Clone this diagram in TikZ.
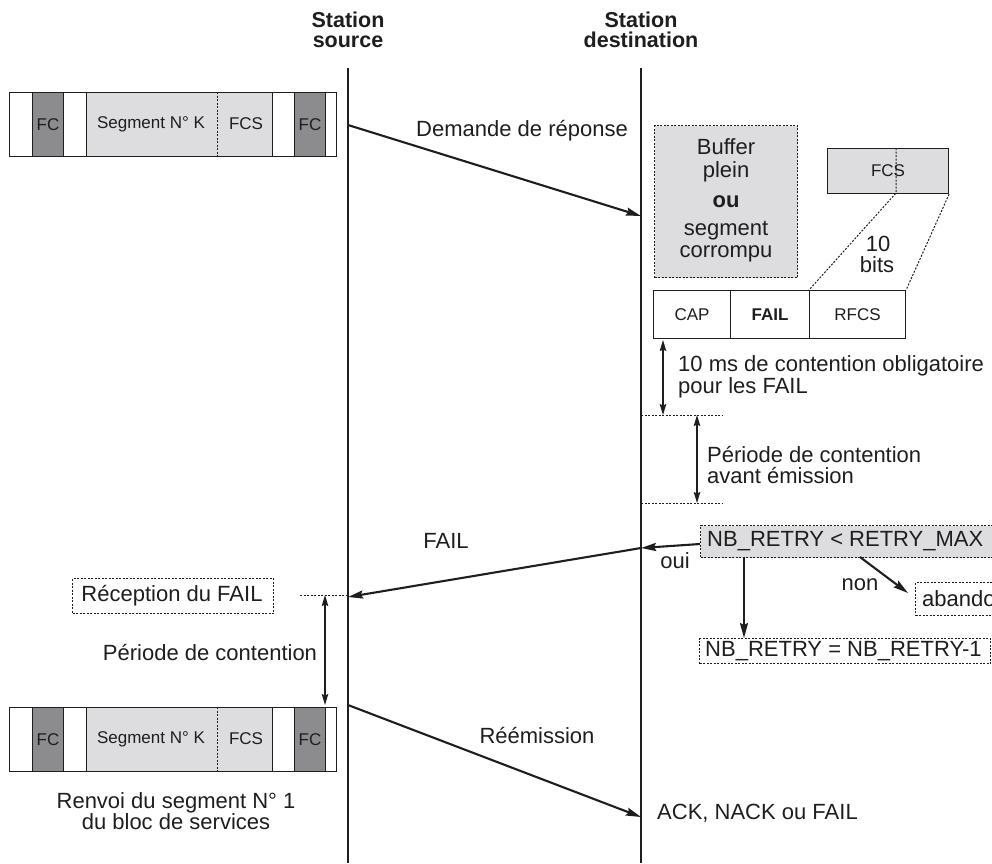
\documentclass[tikz,border=0pt]{standalone}
\usepackage{fontspec}
\setmainfont{Liberation Sans}
\usetikzlibrary{arrows.meta}
\definecolor{fcdark}{RGB}{140,140,142}
\definecolor{paleg}{RGB}{221,221,223}
\definecolor{ink}{RGB}{30,30,30}

% one transmitted frame: white border cells, two FC fields, segment + FCS
\newcommand{\segframe}[2]{% #1 name prefix, #2 top edge
  \node[cell, fill=white, anchor=north west, minimum width=327pt, minimum height=64pt] (#1) at (9,#2) {};
  \node[cell, fill=fcdark, anchor=north west, minimum width=31pt, minimum height=64pt, small] (#1fcA) at (32,#2) {FC};
  \node[cell, fill=paleg, anchor=north west, minimum width=186pt, minimum height=64pt] (#1seg) at (86,#2) {};
  \node[cell, fill=fcdark, anchor=north west, minimum width=31pt, minimum height=64pt, small] (#1fcB) at (294,#2) {FC};
  \draw[dotline] (217,#2) -- (217,{#2+64});
  \node[small] (#1segtxt) at (151,{#2+32}) {Segment N° K};
  \node[small] (#1fcstxt) at (246,{#2+32}) {FCS};
}

\begin{document}
\begin{tikzpicture}[x=1pt,y=-1pt, every node/.style={text=ink},
  big/.style={font=\fontsize{22}{20.5}\selectfont, inner sep=0pt},
  small/.style={font=\fontsize{17}{18}\selectfont, inner sep=0pt},
  head/.style={font=\fontsize{21.5}{20}\selectfont\bfseries, align=center, inner sep=0pt},
  life/.style={line width=2.8pt, draw=ink},
  msg/.style={line width=2.1pt, draw=ink, -{Stealth[length=15pt,width=8pt,inset=2pt]}},
  dbl/.style={line width=1.3pt, draw=ink, {Stealth[length=11pt,width=6.5pt,inset=1.5pt]}-{Stealth[length=11pt,width=6.5pt,inset=1.5pt]}},
  dotline/.style={line width=1pt, draw=ink, dash pattern=on 2pt off 1.5pt},
  cell/.style={draw=ink, line width=1.1pt},
]
\useasboundingbox (0,0) rectangle (992,863);

% headers and lifelines
\node[head] (hsrc) at (348,30) {Station\\source};
\node[head] (hdst) at (641,30) {Station\\destination};
\coordinate (srcTop) at (348,68);
\coordinate (srcBot) at (348,863);
\coordinate (dstTop) at (641,68);
\coordinate (dstBot) at (641,863);
\draw[life] (srcTop) -- (srcBot);
\draw[life] (dstTop) -- (dstBot);

% frames
\segframe{fA}{92}
\segframe{fB}{707}

% first transmission
\coordinate (m1s) at (348,125);
\coordinate (m1d) at (641,216);
\draw[msg] (m1s) -- (m1d);
\node[big] (lbl1) at (522,131) {Demande de réponse};

% error condition
\node[dotline, fill=paleg, anchor=north west, minimum width=143pt, minimum height=152pt] (buf) at (654,125) {};
\node[big] (bufA) at (726,147) {Buffer};
\node[big] (bufB) at (726,172) {plein};
\node[big, font=\fontsize{22}{20}\selectfont\bfseries] (bufC) at (726,202) {ou};
\node[big] (bufD) at (726,231) {segment};
\node[big] (bufE) at (726,254) {corrompu};

% FAIL frame and its FCS zoom
\node[cell, fill=paleg, anchor=north west, minimum width=121pt, minimum height=45pt] (fcs) at (827,148) {};
\node[small] (fcstxt) at (888,171) {FCS};
\node[cell, fill=white, anchor=north west, minimum width=77pt, minimum height=48pt, small] (cap) at (653,290) {CAP};
\node[cell, fill=white, anchor=north west, minimum width=79pt, minimum height=48pt, small, font=\fontsize{17}{18}\selectfont\bfseries] (fail) at (730,290) {FAIL};
\node[cell, fill=white, anchor=north west, minimum width=96pt, minimum height=48pt, small] (rfcs) at (809,290) {RFCS};
\coordinate (fcsMidT) at (896,148);
\coordinate (fcsMidB) at (896,193);
\draw[dotline] (fcsMidT) -- (fcsMidB) -- (rfcs.north west);
\draw[dotline] (fcs.south east) -- (rfcs.north east);
\node[big] (tenA) at (878,244) {10};
\node[big] (tenB) at (877,265) {bits};

% contention periods at destination
\coordinate (c1a) at (663,340);
\coordinate (c1b) at (663,415);
\coordinate (c2a) at (697,415);
\coordinate (c2b) at (697,503);
\draw[dotline] (641,415) -- (722,415);
\draw[dotline] (641,503) -- (722,503);
\draw[dbl] (c1a) -- (c1b);
\draw[dbl] (c2a) -- (c2b);
\node[big, anchor=west, align=left] (t10) at (678,377) {10 ms de contention obligatoire\\pour les FAIL};
\node[big, anchor=west, align=left] (tper) at (707,465) {Période de contention\\avant émission};

% retry decision
\node[dotline, fill=paleg, anchor=north west, minimum width=300pt, minimum height=32pt] (nbtest) at (700,525) {};
\node[big, anchor=west] (nbtxt) at (707,541) {NB\_RETRY < RETRY\_MAX};
\node[dotline, fill=white, anchor=north west, minimum width=90pt, minimum height=33pt] (aband) at (915,582) {};
\node[big, anchor=west] (abtxt) at (922,599) {abandon};
\node[dotline, fill=white, anchor=north west, minimum width=291pt, minimum height=25pt] (nbdec) at (699,638) {};
\node[big, anchor=west] (nbdtxt) at (705,651) {NB\_RETRY = NB\_RETRY-1};
\coordinate (nbL) at (700,544);
\coordinate (failD) at (641,548);
\coordinate (failS) at (348,597);
\draw[msg] (nbL) -- (failD);
\draw[msg] (failD) -- (failS);
\node[big] (lblfail) at (446,541) {FAIL};
\node[big] (oui) at (675,561) {oui};
\draw[msg] (744,557) -- (nbdec.north -| 744,0);
\draw[msg] (860,557) -- (908,593);
\node[big] (non) at (860,585) {non};

% source side: reception and contention
\node[dotline, fill=white, anchor=north west, minimum width=201pt, minimum height=35pt] (recep) at (72,578) {};
\node[big] (receptxt) at (172,596) {Réception du FAIL};
\coordinate (rcA) at (300,595);
\draw[dotline] (rcA) -- (348,595);
\coordinate (c3a) at (325,595);
\coordinate (c3b) at (325,705);
\draw[dbl] (c3a) -- (c3b);
\node[big] (pcont) at (210,652) {Période de contention};

% retransmission
\coordinate (m2s) at (348,705);
\coordinate (m2d) at (641,817);
\draw[msg] (m2s) -- (m2d);
\node[big] (lblre) at (537,735) {Réémission};
\node[big, anchor=west] (ack) at (657,813) {ACK, NACK ou FAIL};
\node[big, align=center] (renvoi) at (176,811) {Renvoi du segment N° 1\\du bloc de services};
\end{tikzpicture}
\end{document}
